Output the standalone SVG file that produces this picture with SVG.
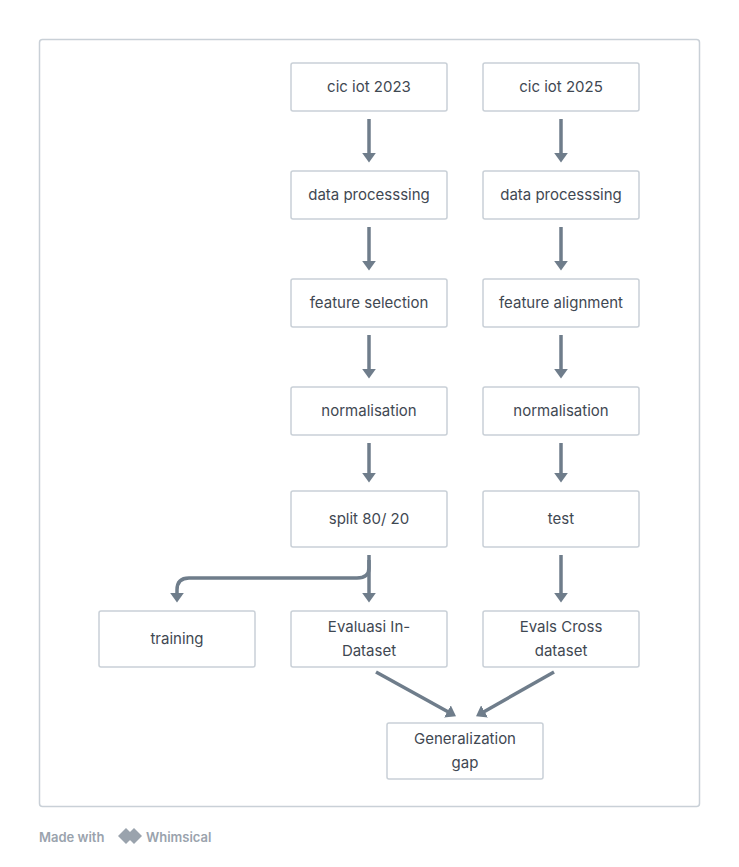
<svg xmlns="http://www.w3.org/2000/svg" width="739" height="867" viewBox="0 0 739 867">
<style>
.n rect{fill:#fff;stroke:#c9d0d7;stroke-width:1.5}
.n text{font-family:Inter,"Noto Sans",sans-serif;font-size:15px;fill:#3f4852;text-anchor:middle}
.c path{fill:none;stroke:#6f7d8b;stroke-width:3.5;marker-end:url(#a)}
</style>
<defs><marker id="a" markerWidth="4" markerHeight="4" refX="1.5" refY="2" orient="auto" markerUnits="strokeWidth"><path d="M0,0 L2.8,2 L0,4 Z" fill="#6f7d8b"/></marker></defs>
<rect x="0" y="0" width="739" height="867" fill="#fff"/>
<rect x="39.5" y="39.5" width="660" height="767" rx="3" fill="#fff" stroke="#c9d0d7" stroke-width="1.5"/>
<g class="c">
<path d="M369 119V158"/><path d="M369 227V266"/><path d="M369 335V374"/><path d="M369 443V478"/>
<path d="M561 119V158"/><path d="M561 227V266"/><path d="M561 335V374"/><path d="M561 443V478"/>
<path d="M369 555V598"/><path d="M561 555V598"/>
<path d="M369 560V568Q369 578 357 578H189Q177 578 177 590V598"/>
<path d="M376 672L452 714"/><path d="M554 672L480 714"/>
</g>
<g id="n1" class="n"><rect x="291" y="63" width="156" height="48" rx="2"/><text x="369" y="92">cic iot 2023</text></g>
<g id="n2" class="n"><rect x="483" y="63" width="156" height="48" rx="2"/><text x="561" y="92">cic iot 2025</text></g>
<g id="n3" class="n"><rect x="291" y="171" width="156" height="48" rx="2"/><text x="369" y="200">data processsing</text></g>
<g id="n4" class="n"><rect x="483" y="171" width="156" height="48" rx="2"/><text x="561" y="200">data processsing</text></g>
<g id="n5" class="n"><rect x="291" y="279" width="156" height="48" rx="2"/><text x="369" y="308">feature selection</text></g>
<g id="n6" class="n"><rect x="483" y="279" width="156" height="48" rx="2"/><text x="561" y="308">feature alignment</text></g>
<g id="n7" class="n"><rect x="291" y="387" width="156" height="48" rx="2"/><text x="369" y="416">normalisation</text></g>
<g id="n8" class="n"><rect x="483" y="387" width="156" height="48" rx="2"/><text x="561" y="416">normalisation</text></g>
<g id="n9" class="n"><rect x="291" y="491" width="156" height="56" rx="2"/><text x="369" y="524">split 80/ 20</text></g>
<g id="n10" class="n"><rect x="483" y="491" width="156" height="56" rx="2"/><text x="561" y="524">test</text></g>
<g id="n11" class="n"><rect x="99" y="611" width="156" height="56" rx="2"/><text x="177" y="644">training</text></g>
<g id="n12" class="n"><rect x="291" y="611" width="156" height="56" rx="2"/><text x="369" y="632">Evaluasi In-</text><text x="369" y="656">Dataset</text></g>
<g id="n13" class="n"><rect x="483" y="611" width="156" height="56" rx="2"/><text x="561" y="632">Evals Cross</text><text x="561" y="656">dataset</text></g>
<g id="n14" class="n"><rect x="387" y="723" width="156" height="56" rx="2"/><text x="465" y="744">Generalization</text><text x="465" y="768">gap</text></g>
<g id="logo">
<text x="39" y="842" font-family="Inter,sans-serif" font-size="13" font-weight="600" fill="#9aa3ad">Made with</text>
<path d="M126 828L118 836L126 844L130 840L126 836L130 832Z M134 828L142 836L134 844L126 836Z" fill="#9aa3ad"/>
<text x="146" y="842" font-family="Inter,sans-serif" font-size="13" font-weight="600" fill="#9aa3ad">Whimsical</text>
</g>
</svg>
